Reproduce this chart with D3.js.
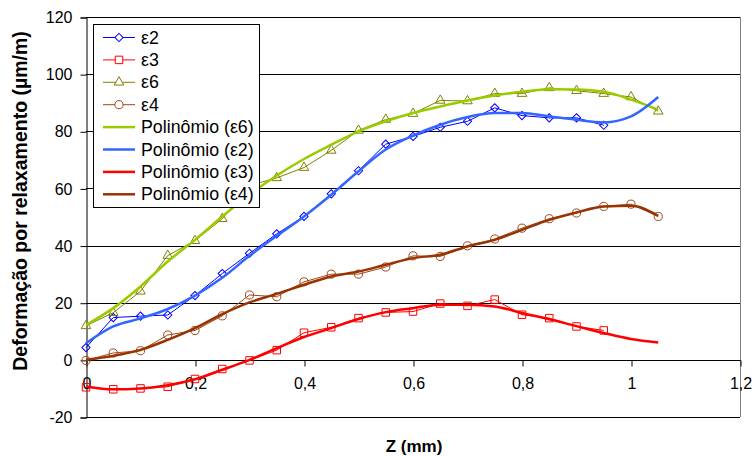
<!DOCTYPE html>
<html>
<head>
<meta charset="utf-8">
<script src="https://cdnjs.cloudflare.com/ajax/libs/d3/7.8.5/d3.min.js"></script>
<style>
body { margin: 0; background: #fff; }
svg { display: block; font-family: Arial, "Liberation Sans", sans-serif; }
</style>
</head>
<body>
<script>
var w = 752;
var h = 456;

// Z (mm) positions of the measurements
var zVals = [0, 0.05, 0.1, 0.15, 0.2, 0.25, 0.3, 0.35, 0.4, 0.45, 0.5, 0.55, 0.6, 0.65, 0.7, 0.75, 0.8, 0.85, 0.9, 0.95, 1, 1.05];

var e2 = [4.3, 14.8, 15.3, 15.7, 22.5, 30.2, 37.3, 44.1, 50.2, 58.1, 66.2, 75.5, 78.2, 81.4, 83.5, 88.2, 85.5, 84.7, 84.7, 82.1];
var e3 = [-9.6, -10.3, -10, -9.4, -6.7, -3.2, -0.2, 3.4, 9.5, 11.4, 14.6, 16.6, 16.9, 19.7, 18.9, 21.1, 15.8, 14.6, 11.7, 10.3];
var e6 = [11.9, 16.5, 24, 36.5, 41.7, 49.4, 61, 63.7, 67.3, 73.3, 80.3, 84.1, 86.2, 90.8, 90.6, 93.2, 93.2, 95.2, 94.2, 93.2, 92, 87];
var e4 = [-0.2, 2.4, 3.2, 8.7, 10.3, 15.4, 22.7, 22.1, 27.3, 30, 30, 32.5, 36.4, 36.2, 39.9, 42.3, 46.1, 49.4, 51.4, 53.7, 54.5, 50.2];

// polynomial trend lines (at the same Z positions)
var p6 = [12.2, 18.1, 25.7, 34.4, 42, 50.2, 57.8, 64.5, 70.3, 75.3, 80, 83.5, 86.4, 88.7, 90.8, 92.5, 93.8, 94.7, 94.6, 93.8, 91.1, 87.6];
var p2 = [5.8, 11.7, 14.5, 17.8, 22.5, 28.7, 36.4, 43.4, 50.2, 57.8, 66, 73.6, 78.5, 82.3, 85, 86.4, 86.4, 85.2, 84, 83.1, 85.2, 92];
var p3 = [-9.3, -10.3, -10, -8.9, -6.8, -3.5, 0, 4.1, 8, 11.1, 14.3, 16.7, 18.1, 19.3, 19.3, 18.7, 16.4, 14.2, 11.8, 9.4, 7.3, 6.1];
var p4 = [0, 1.4, 3.5, 7, 11.1, 16, 20.1, 23.1, 26.3, 29.2, 30.9, 33.3, 35.6, 36.8, 39.7, 42, 45.5, 49, 51.6, 53.7, 53.9, 50.4];

var xTicks = [0, 0.2, 0.4, 0.6, 0.8, 1, 1.2];
var yTicks = [-20, 0, 20, 40, 60, 80, 100, 120];

var series = [
    { name: "ε2", values: e2, color: "#0000ff", marker: "diamond" },
    { name: "ε3", values: e3, color: "#ff0000", marker: "square" },
    { name: "ε6", values: e6, color: "#808000", marker: "triangle" },
    { name: "ε4", values: e4, color: "#a0461e", marker: "circle" }
];
var trends = [
    { name: "Polinômio (ε6)", values: p6, color: "#99cc00" },
    { name: "Polinômio (ε2)", values: p2, color: "#3366ff" },
    { name: "Polinômio (ε3)", values: p3, color: "#ff0000" },
    { name: "Polinômio (ε4)", values: p4, color: "#993300" }
];

var xScale = d3.scaleLinear().domain([0, 1.2]).range([86, 740]);
var yScale = d3.scaleLinear().domain([-20, 120]).range([417, 17]);

var svg = d3.select("body")
    .append("svg")
    .attr("width", w)
    .attr("height", h);

// horizontal gridlines
svg.append("g")
    .selectAll("line")
    .data(yTicks)
    .enter()
    .append("line")
    .attr("x1", xScale(0))
    .attr("x2", xScale(1.2))
    .attr("y1", function(d) { return Math.round(yScale(d)) + 0.5; })
    .attr("y2", function(d) { return Math.round(yScale(d)) + 0.5; })
    .attr("stroke", "#000")
    .attr("stroke-width", 1);

// right border of the plot area
svg.append("line")
    .attr("x1", Math.round(xScale(1.2)) + 0.5)
    .attr("x2", Math.round(xScale(1.2)) + 0.5)
    .attr("y1", yScale(120))
    .attr("y2", yScale(-20))
    .attr("stroke", "#808080");

function fmt(d) {
    return String(d).replace(".", ",");
}

// y axis
var yAxis = d3.axisLeft(yScale).tickValues(yTicks).tickSize(6).tickPadding(8).tickFormat(fmt);
var gy = svg.append("g")
    .attr("transform", "translate(" + (Math.round(xScale(0)) + 0.5) + ",0.5)")
    .call(yAxis);
gy.select(".domain").attr("stroke", "#000");
gy.selectAll("text").attr("font-size", 16).attr("font-family", "Arial, 'Liberation Sans', sans-serif").attr("fill", "#000");

// x axis at y = 0
var xAxis = d3.axisBottom(xScale).tickValues(xTicks).tickSize(6).tickPadding(11).tickFormat(fmt);
var gx = svg.append("g")
    .attr("transform", "translate(0.5," + (Math.round(yScale(0)) + 0.5) + ")")
    .call(xAxis);
gx.select(".domain").attr("d", "M" + xScale(0) + ",0H" + xScale(1.2));
gx.selectAll("text").attr("font-size", 16).attr("font-family", "Arial, 'Liberation Sans', sans-serif").attr("fill", "#000");

// axis titles
svg.append("text")
    .attr("x", 414)
    .attr("y", 452)
    .attr("text-anchor", "middle")
    .attr("font-size", 17)
    .attr("font-weight", "bold")
    .text("Z (mm)");

svg.append("text")
    .attr("transform", "translate(27,201) rotate(-90)")
    .attr("text-anchor", "middle")
    .attr("font-size", 19.5)
    .attr("font-weight", "bold")
    .text("Deformação por relaxamento (µm/m)");

function symbolFor(type) {
    if (type === "diamond") return d3.symbol().type(d3.symbolSquare).size(34)();
    if (type === "square") return d3.symbol().type(d3.symbolSquare).size(56)();
    if (type === "triangle") return d3.symbol().type(d3.symbolTriangle).size(40)();
    return d3.symbol().type(d3.symbolCircle).size(52)();
}
function markerTransform(type, px, py) {
    if (type === "diamond") return "translate(" + px + "," + py + ") rotate(45)";
    return "translate(" + px + "," + py + ")";
}

var dataLine = d3.line()
    .x(function(d, i) { return xScale(zVals[i]); })
    .y(function(d) { return yScale(d); });

var trendLine = d3.line()
    .x(function(d, i) { return xScale(zVals[i]); })
    .y(function(d) { return yScale(d); })
    .curve(d3.curveMonotoneX);

// measured series: thin line + hollow markers
series.forEach(function(s) {
    svg.append("path")
        .datum(s.values)
        .attr("d", dataLine)
        .attr("fill", "none")
        .attr("stroke", s.color)
        .attr("stroke-width", 1);

    svg.append("g")
        .selectAll("path")
        .data(s.values)
        .enter()
        .append("path")
        .attr("d", symbolFor(s.marker))
        .attr("transform", function(d, i) { return markerTransform(s.marker, xScale(zVals[i]), yScale(d)); })
        .attr("fill", "none")
        .attr("stroke", s.color)
        .attr("stroke-width", 1);
});

// polynomial trend lines
trends.forEach(function(t) {
    svg.append("path")
        .datum(t.values)
        .attr("d", trendLine)
        .attr("fill", "none")
        .attr("stroke", t.color)
        .attr("stroke-width", 2.5)
        .attr("stroke-linejoin", "round");
});

// legend
var legend = svg.append("g");
legend.append("rect")
    .attr("x", 93.5)
    .attr("y", 24.5)
    .attr("width", 166)
    .attr("height", 183)
    .attr("fill", "#fff")
    .attr("stroke", "#000");

var items = series.concat(trends);
var rows = legend.selectAll("g.item")
    .data(items)
    .enter()
    .append("g")
    .attr("class", "item")
    .attr("transform", function(d, i) { return "translate(0," + (37.5 + i * 22.4) + ")"; });

rows.append("line")
    .attr("x1", 103)
    .attr("x2", 135)
    .attr("stroke", function(d) { return d.color; })
    .attr("stroke-width", function(d) { return d.marker ? 1 : 2.5; });

rows.filter(function(d) { return d.marker; })
    .append("path")
    .attr("d", function(d) { return symbolFor(d.marker); })
    .attr("transform", function(d) { return markerTransform(d.marker, 119, 0); })
    .attr("fill", "#fff")
    .attr("stroke", function(d) { return d.color; });

rows.append("text")
    .attr("x", 141)
    .attr("y", 6)
    .attr("font-size", 17.8)
    .attr("fill", "#000")
    .text(function(d) { return d.name; });
</script>
</body>
</html>
